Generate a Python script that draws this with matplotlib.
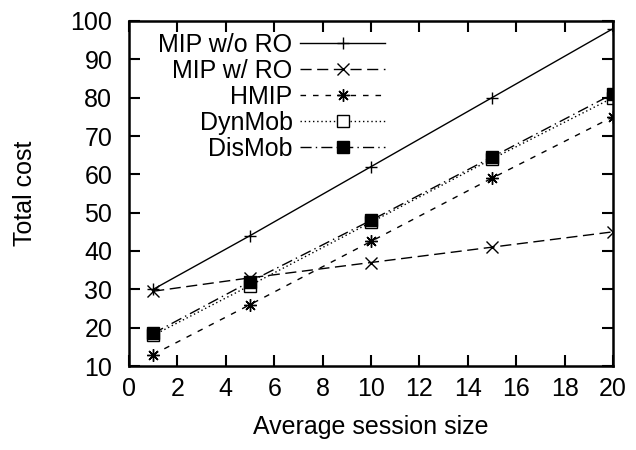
import matplotlib
matplotlib.use("Agg")
import matplotlib.pyplot as plt

# session sizes and total cost per scheme
sizes = [1, 5, 10, 15, 20]
mip_wo_ro = [30, 44, 62, 80, 98]
mip_w_ro = [29.5, 33, 37, 41, 45]
hmip = [13, 26, 42.5, 59, 75]
dynmob = [18, 31, 47.5, 64, 80]
dismob = [18.5, 32, 48, 64.5, 81]

plt.rcParams['font.family'] = ['Liberation Sans', 'DejaVu Sans']

fig = plt.figure(figsize=(6.36, 4.5), dpi=100)
ax = fig.add_axes([129 / 636, 1 - 366 / 450, (613 - 129) / 636, (366 - 21) / 450])

ax.plot(sizes, mip_wo_ro, color='black', linewidth=1, linestyle='-',
        marker='+', markersize=9, markeredgewidth=1, label='MIP w/o RO')
ax.plot(sizes, mip_w_ro, color='black', linewidth=1, linestyle=(0, (8, 4)),
        marker='x', markersize=8, markeredgewidth=1, label='MIP w/ RO')
ax.plot(sizes, hmip, color='black', linewidth=1, linestyle=(0, (4, 5)),
        marker=(8, 2, 0), markersize=9, markeredgewidth=1, label='HMIP')
ax.plot(sizes, dynmob, color='black', linewidth=1, linestyle=(0, (1, 2)),
        marker='s', markersize=8, markerfacecolor='white', markeredgewidth=1,
        label='DynMob')
ax.plot(sizes, dismob, color='black', linewidth=1, linestyle=(0, (8, 3, 1, 3)),
        marker='s', markersize=9, markerfacecolor='black', label='DisMob')

ax.set_xlim(0, 20)
ax.set_ylim(10, 100)
ax.set_xticks(range(0, 21, 2))
ax.set_yticks(range(10, 101, 10))
ax.tick_params(direction='in', length=8, width=1.5, labelsize=18,
               top=True, right=True)
ax.tick_params(axis='y', pad=12)
ax.tick_params(axis='x', pad=8)
for s in ax.spines.values():
    s.set_linewidth(1.8)

ax.set_xlabel('Average session size', fontsize=18, labelpad=10)
ax.set_ylabel('Total cost', fontsize=18, labelpad=24)

leg = ax.legend(loc='upper right', bbox_to_anchor=(385 / 636, 1 - 33 / 450),
                bbox_transform=fig.transFigure, frameon=False,
                markerfirst=False, fontsize=18, handlelength=3.4,
                labelspacing=0.08, borderpad=0, borderaxespad=0,
                handletextpad=0.3)
for t in leg.get_texts():
    t.set_ha('right')
leg._legend_box.align = 'right'

fig.savefig('out.png', dpi=100)
